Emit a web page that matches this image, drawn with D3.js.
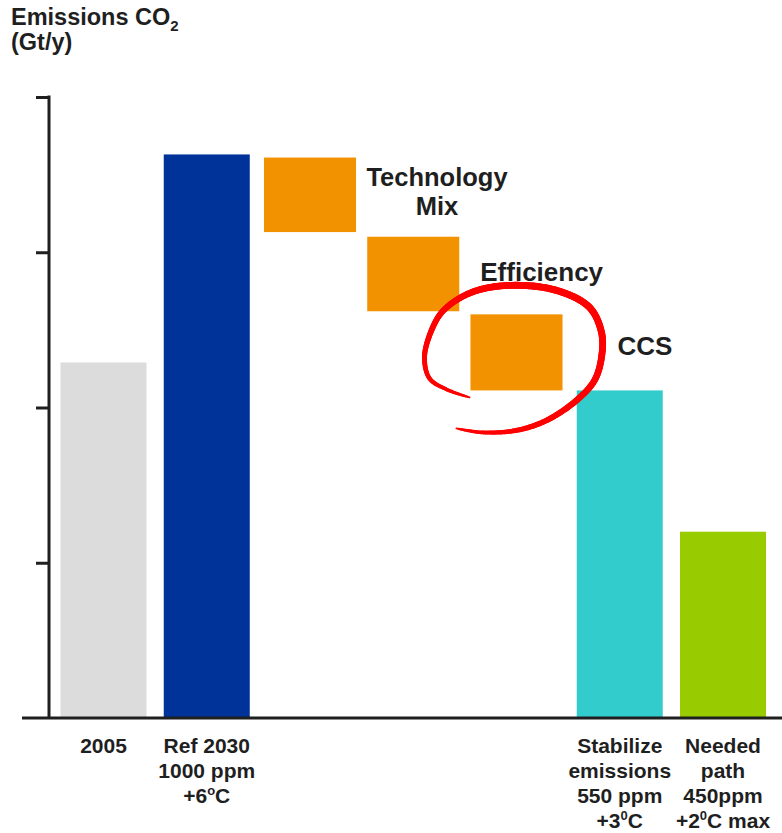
<!DOCTYPE html>
<html>
<head>
<meta charset="utf-8">
<script src="https://cdn.jsdelivr.net/npm/d3@7"></script>
<style>
  html, body { margin: 0; padding: 0; background: #fff; }
  svg { display: block; }
  text { font-family: "Liberation Sans", Arial, Helvetica, sans-serif; font-weight: bold; fill: #1f1f1f; }
</style>
</head>
<body>
<svg id="chart" width="782" height="833"></svg>
<script>
// ---- data ----
const categories = ["2005", "Ref 2030", "Technology Mix", "Efficiency", "CCS", "Stabilize", "Needed"];
const barValues = [
  { cat: "2005", value: 22.9, color: "#dcdcdc" },
  { cat: "Ref 2030", value: 36.3, color: "#003399" },
  { cat: "Stabilize", value: 21.1, color: "#33cccc" },
  { cat: "Needed", value: 12.0, color: "#99cc00" }
];
const wedgeTops = [36.1, 31.0, 26.0];
const wedgeBottoms = [31.3, 26.2, 21.1];
const wedgeCats = ["Technology Mix", "Efficiency", "CCS"];
const wedgeLabels = [["Technology", "Mix"], ["Efficiency"], ["CCS"]];
const tickValues = [0, 10, 20, 30, 40];
const bottomLabels = {
  "2005": ["2005"],
  "Ref 2030": ["Ref 2030", "1000 ppm", "+6^o^C"],
  "Stabilize": ["Stabilize", "emissions", "550 ppm", "+3^0^C"],
  "Needed": ["Needed", "path", "450ppm", "+2^0^C max"]
};

// ---- layout ----
const svg = d3.select("#chart");
const baseY = 718;
const x = d3.scaleBand().domain(categories).range([60.5, 766]).paddingInner(0.167).paddingOuter(0);
const y = d3.scaleLinear().domain([0, 40]).range([baseY, 97]);
const axisX = 49;

// title
const title = svg.append("text").attr("x", 11).attr("y", 25).style("font-size", "23.5px");
title.append("tspan").text("Emissions CO");
title.append("tspan").text("2").style("font-size", "15px").attr("dy", 6);
svg.append("text").attr("x", 11).attr("y", 50).style("font-size", "23.5px").text("(Gt/y)");

// bars
svg.selectAll("rect.bar").data(barValues).enter().append("rect")
  .attr("class", "bar")
  .attr("x", d => x(d.cat))
  .attr("width", x.bandwidth())
  .attr("y", d => y(d.value))
  .attr("height", d => baseY - y(d.value))
  .attr("fill", d => d.color);

// wedges
const wedgeW = x.bandwidth() * 1.07;
const wedges = wedgeCats.map((c, i) => ({ cat: c, top: wedgeTops[i], bottom: wedgeBottoms[i], label: wedgeLabels[i] }));
svg.selectAll("rect.wedge").data(wedges).enter().append("rect")
  .attr("class", "wedge")
  .attr("x", d => x(d.cat) + x.bandwidth() / 2 - wedgeW / 2)
  .attr("width", wedgeW)
  .attr("y", d => y(d.top))
  .attr("height", d => y(d.bottom) - y(d.top))
  .attr("fill", "#f29200");

// wedge labels
wedges.forEach((d, i) => {
  const right = x(d.cat) + x.bandwidth() / 2 + wedgeW / 2;
  if (i === 0) {
    const cx = right + 81;
    const t = svg.append("text").attr("y", 186).attr("text-anchor", "middle").style("font-size", "25.5px");
    d.label.forEach((s, j) => {
      t.append("tspan").attr("x", cx).attr("dy", j === 0 ? 0 : 28.8).text(s);
    });
  } else if (i === 1) {
    svg.append("text").attr("x", right + 21).attr("y", y(d.top) + 44)
      .style("font-size", "26px").text(d.label[0]);
  } else {
    svg.append("text").attr("x", right + 55).attr("y", y(d.top) + 41)
      .style("font-size", "26px").text(d.label[0]);
  }
});

// red hand-drawn loop around CCS
const ccs = wedges[2];
const ccx = x(ccs.cat) + x.bandwidth() / 2;
const ccy = (y(ccs.top) + y(ccs.bottom)) / 2;
const loopOffsets = [[-47, 45], [-70, 37], [-87, 26], [-92, 5], [-85, -22], [-73, -42], [-45, -60], [-7, -67], [40, -62], [73, -45], [85, -20], [85, 5], [78, 28], [60, 48], [30, 68], [0, 78], [-35, 80], [-60, 76]];
const loopPts = loopOffsets.map(p => [ccx + p[0], ccy + p[1]]);
const hidden = svg.append("path")
  .attr("d", d3.line().curve(d3.curveCatmullRom.alpha(0.5))(loopPts))
  .attr("fill", "none").attr("stroke", "none");
const node = hidden.node();
const L = node.getTotalLength();
const N = 240;
const samples = d3.range(N + 1).map(k => {
  const p = node.getPointAtLength(L * k / N);
  return { x: p.x, y: p.y, t: k / N };
});
const g = svg.append("g");
for (let k = 0; k < N; k++) {
  const a = samples[k], b = samples[k + 1];
  const t = (a.t + b.t) / 2;
  const w = 1.5 + 5.5 * Math.pow(Math.sin(Math.PI * t), 0.5);
  g.append("line").attr("x1", a.x).attr("y1", a.y).attr("x2", b.x).attr("y2", b.y)
    .attr("stroke", "#ff0000").attr("stroke-width", w).attr("stroke-linecap", "round");
}

// axis
const axisG = svg.append("g").attr("transform", `translate(${axisX},0)`);
axisG.call(d3.axisLeft(y).tickValues(tickValues.slice(1)).tickSize(13).tickFormat(""));
axisG.select(".domain").remove();
axisG.selectAll(".tick line").attr("stroke", "#1f1f1f").attr("stroke-width", 3);
svg.append("line").attr("x1", axisX).attr("x2", axisX).attr("y1", y(40) - 1.5).attr("y2", baseY)
  .attr("stroke", "#1f1f1f").attr("stroke-width", 3);
svg.append("line").attr("x1", 22).attr("x2", 782).attr("y1", baseY).attr("y2", baseY)
  .attr("stroke", "#1f1f1f").attr("stroke-width", 3);

// bottom labels
Object.keys(bottomLabels).forEach(cat => {
  const cx = x(cat) + x.bandwidth() / 2;
  bottomLabels[cat].forEach((line, j) => {
    const t = svg.append("text").attr("x", cx).attr("y", 753 + j * 25)
      .attr("text-anchor", "middle").style("font-size", "21px");
    const parts = line.split("^");
    parts.forEach((p, k) => {
      if (!p) return;
      if (k % 2 === 1) {
        t.append("tspan").text(p).style("font-size", "13px").attr("dy", -8);
      } else {
        const ts = t.append("tspan").text(p);
        if (k > 0) ts.attr("dy", 8);
      }
    });
  });
});
</script>
</body>
</html>
